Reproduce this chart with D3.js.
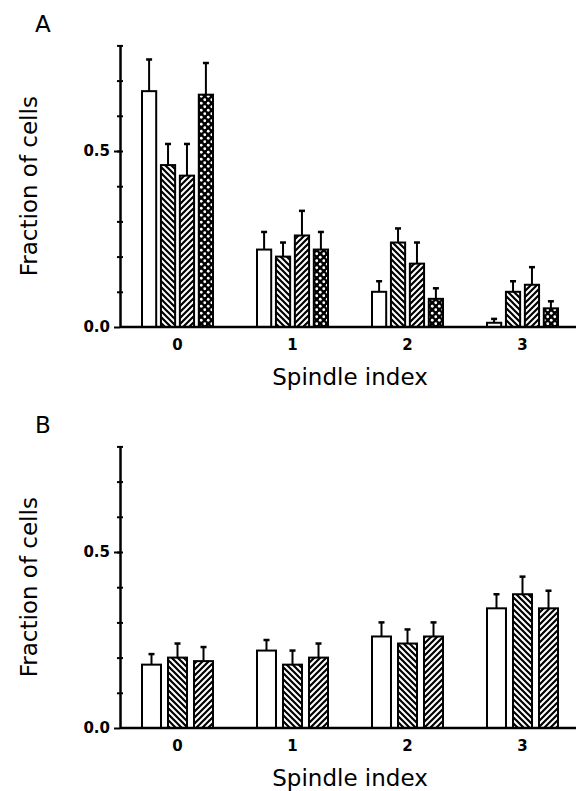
<!DOCTYPE html>
<html>
<head>
<meta charset="utf-8">
<script src="https://cdn.jsdelivr.net/npm/d3@7"></script>
<style>
  body { margin: 0; background: #fff; }
  .ttl { font-family: "DejaVu Sans", sans-serif; font-size: 23px; fill: #000; }
  .tick text { font-family: "DejaVu Sans", sans-serif; font-weight: bold; font-size: 15px; fill: #000; }
</style>
</head>
<body>
<script>
// spindle index categories and tick labels
var categories = ["0", "1", "2", "3"];
var yMajorTicks = [0, 0.5];
var yMinorTicks = [0.1, 0.2, 0.3, 0.4, 0.5, 0.6, 0.7, 0.8];

// panel A: mean fraction of cells and error (one value per spindle index)
var openA = [0.67, 0.22, 0.10, 0.012];
var openErrA = [0.09, 0.05, 0.03, 0.011];
var backA = [0.46, 0.20, 0.24, 0.10];
var backErrA = [0.06, 0.04, 0.04, 0.03];
var fwdA = [0.43, 0.26, 0.18, 0.12];
var fwdErrA = [0.09, 0.07, 0.06, 0.05];
var checkA = [0.66, 0.22, 0.08, 0.053];
var checkErrA = [0.09, 0.05, 0.03, 0.02];

// panel B
var openB = [0.18, 0.22, 0.26, 0.34];
var openErrB = [0.03, 0.03, 0.04, 0.04];
var backB = [0.20, 0.18, 0.24, 0.38];
var backErrB = [0.04, 0.04, 0.04, 0.05];
var fwdB = [0.19, 0.20, 0.26, 0.34];
var fwdErrB = [0.04, 0.04, 0.04, 0.05];

var svg = d3.select("body").append("svg")
    .attr("width", 578)
    .attr("height", 791);

// fill patterns
var defs = svg.append("defs");
defs.append("pattern")
    .attr("id", "back").attr("patternUnits", "userSpaceOnUse")
    .attr("width", 6).attr("height", 6)
  .append("path")
    .attr("d", "M0,0L6,6M-1,5L1,7M5,-1L7,1")
    .attr("stroke", "#000").attr("stroke-width", 2.2);
defs.append("pattern")
    .attr("id", "fwd").attr("patternUnits", "userSpaceOnUse")
    .attr("width", 6).attr("height", 6)
  .append("path")
    .attr("d", "M0,6L6,0M-1,1L1,-1M5,7L7,5")
    .attr("stroke", "#000").attr("stroke-width", 2.2);
var chk = defs.append("pattern")
    .attr("id", "check").attr("patternUnits", "userSpaceOnUse")
    .attr("width", 7).attr("height", 7);
chk.append("rect").attr("width", 7).attr("height", 7).attr("fill", "#000");
chk.append("circle").attr("cx", 1.75).attr("cy", 1.75).attr("r", 1.4).attr("fill", "#fff");
chk.append("circle").attr("cx", 5.25).attr("cy", 5.25).attr("r", 1.4).attr("fill", "#fff");

function drawPanel(p) {
  var x = d3.scaleBand().domain(categories).range([120, 580]);
  var x1 = d3.scaleBand().domain(p.series.map(function(s, i){ return i; }))
      .range([-35.5, 35.5]).paddingInner(p.pad);
  var y = d3.scaleLinear().domain([0, 0.8]).range([p.y0, p.y0 - 281.6]);

  var g = svg.append("g");

  // bars
  p.series.forEach(function(s, si) {
    var bars = g.selectAll(".b" + si)
        .data(categories.map(function(c, i){ return {c: c, v: s.vals[i], e: s.errs[i]}; }))
        .enter().append("g");
    var cx = function(d){ return x(d.c) + x.bandwidth()/2 + x1(si) + x1.bandwidth()/2; };

    bars.append("line")
        .attr("x1", cx).attr("x2", cx)
        .attr("y1", function(d){ return y(d.v); })
        .attr("y2", function(d){ return y(d.v + d.e); })
        .attr("stroke", "#000").attr("stroke-width", 2);
    bars.append("line")
        .attr("x1", function(d){ return cx(d) - 3; })
        .attr("x2", function(d){ return cx(d) + 3; })
        .attr("y1", function(d){ return y(d.v + d.e); })
        .attr("y2", function(d){ return y(d.v + d.e); })
        .attr("stroke", "#000").attr("stroke-width", 2.5);
    bars.append("rect")
        .attr("x", function(d){ return x(d.c) + x.bandwidth()/2 + x1(si); })
        .attr("y", function(d){ return y(d.v); })
        .attr("width", x1.bandwidth())
        .attr("height", function(d){ return y(0) - y(d.v); })
        .attr("fill", s.fill)
        .attr("stroke", "#000").attr("stroke-width", 2);
  });

  // x axis
  var xa = g.append("g")
      .attr("transform", "translate(0," + y(0) + ")")
      .call(d3.axisBottom(x).tickSize(0).tickPadding(12));
  xa.select(".domain").attr("stroke-width", 2.5).attr("d", "M120,0H576");

  // y axis
  var ya = g.append("g")
      .attr("transform", "translate(120,0)")
      .call(d3.axisLeft(y).tickValues(yMajorTicks).tickSizeInner(6).tickSizeOuter(0)
          .tickPadding(4).tickFormat(d3.format(".1f")));
  ya.select(".domain").attr("stroke-width", 2.5);
  ya.selectAll(".tick line").attr("stroke-width", 2);
  [3, -3].forEach(function(s) {
    g.append("g")
        .attr("transform", "translate(120,0)")
        .call(d3.axisLeft(y).tickValues(yMinorTicks).tickSize(s).tickFormat(""))
        .call(function(a){ a.select(".domain").remove(); })
        .selectAll(".tick line").attr("stroke-width", 2);
  });

  // titles
  g.append("text").attr("class", "ttl")
      .attr("x", 35).attr("y", p.y0 - 295)
      .text(p.label);
  g.append("text").attr("class", "ttl")
      .attr("transform", "translate(37," + y(0.4) + ") rotate(-90)")
      .attr("text-anchor", "middle")
      .text("Fraction of cells");
  g.append("text").attr("class", "ttl")
      .attr("x", 350).attr("y", p.y0 + 58)
      .attr("text-anchor", "middle")
      .text("Spindle index");
}

drawPanel({
  label: "A", y0: 327, pad: 0.25,
  series: [
    {vals: openA, errs: openErrA, fill: "#fff"},
    {vals: backA, errs: backErrA, fill: "url(#back)"},
    {vals: fwdA, errs: fwdErrA, fill: "url(#fwd)"},
    {vals: checkA, errs: checkErrA, fill: "url(#check)"}
  ]
});
drawPanel({
  label: "B", y0: 728, pad: 0.27,
  series: [
    {vals: openB, errs: openErrB, fill: "#fff"},
    {vals: backB, errs: backErrB, fill: "url(#back)"},
    {vals: fwdB, errs: fwdErrB, fill: "url(#fwd)"}
  ]
});
</script>
</body>
</html>
